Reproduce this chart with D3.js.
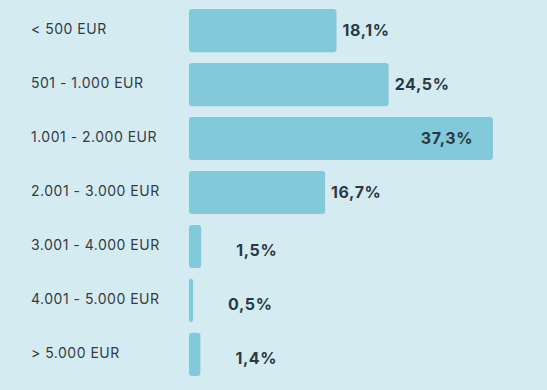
<!DOCTYPE html>
<html>
<head>
<meta charset="utf-8">
<script src="https://cdn.jsdelivr.net/npm/d3@7"></script>
<style>
  body { margin: 0; background: #d5ebf2; }
  svg { display: block; font-family: Inter, "Noto Sans", sans-serif; }
</style>
</head>
<body>
<div id="chart"></div>
<script>
const width = 547
const height = 390
const margin = { top: 9, right: 40, bottom: 14, left: 189 }

const categories = ["< 500 EUR", "501 - 1.000 EUR", "1.001 - 2.000 EUR", "2.001 - 3.000 EUR",
    "3.001 - 4.000 EUR", "4.001 - 5.000 EUR", "> 5.000 EUR"]
const values = [18.1, 24.5, 37.3, 16.7, 1.5, 0.5, 1.4]
const valueLabels = ["18,1%", "24,5%", "37,3%", "16,7%", "1,5%", "0,5%", "1,4%"]

const data = categories.map((c, i) => ({ cat: c, value: values[i], label: valueLabels[i] }))

const svg = d3.select("div#chart").append("svg").attr("width", width).attr("height", height)
svg.append("rect").attr("width", width).attr("height", height).attr("fill", "#d5ebf2")

const x = d3.scaleLinear().domain([0, 40]).range([0, 326])
const y = d3.scaleBand().domain(categories)
    .range([margin.top, height - margin.bottom]).paddingInner(0.2).paddingOuter(0)

const g = svg.append("g").attr("transform", `translate(${margin.left}, 0)`)

// bars
g.selectAll("rect.bar").data(data).enter()
    .append("rect")
    .attr("class", "bar")
    .attr("x", 0)
    .attr("y", d => y(d.cat))
    .attr("width", d => x(d.value))
    .attr("height", y.bandwidth())
    .attr("rx", 3)
    .attr("fill", "#82c9dc")

// category labels
svg.selectAll("text.cat").data(data).enter()
    .append("text")
    .attr("class", "cat")
    .attr("x", 31)
    .attr("y", d => y(d.cat) + y.bandwidth() / 2 - 1.5)
    .attr("dy", "0.35em")
    .attr("font-size", 14)
    .attr("letter-spacing", 0.5)
    .attr("fill", "#333b42")
    .text(d => d.cat)

// value labels
const maxV = d3.max(values)
g.selectAll("text.val").data(data).enter()
    .append("text")
    .attr("class", "val")
    .attr("x", d => d.value === maxV ? x(d.value) - 20 : x(d.value) + (d.value < 5 ? 35 : 6))
    .attr("y", d => y(d.cat) + y.bandwidth() / 2 + (d.value < 5 ? 4 : 0))
    .attr("dy", "0.35em")
    .attr("text-anchor", d => d.value === maxV ? "end" : "start")
    .attr("font-size", 16)
    .attr("letter-spacing", 0.6)
    .attr("font-weight", 700)
    .attr("fill", "#2b3944")
    .text(d => d.label)
</script>
</body>
</html>
